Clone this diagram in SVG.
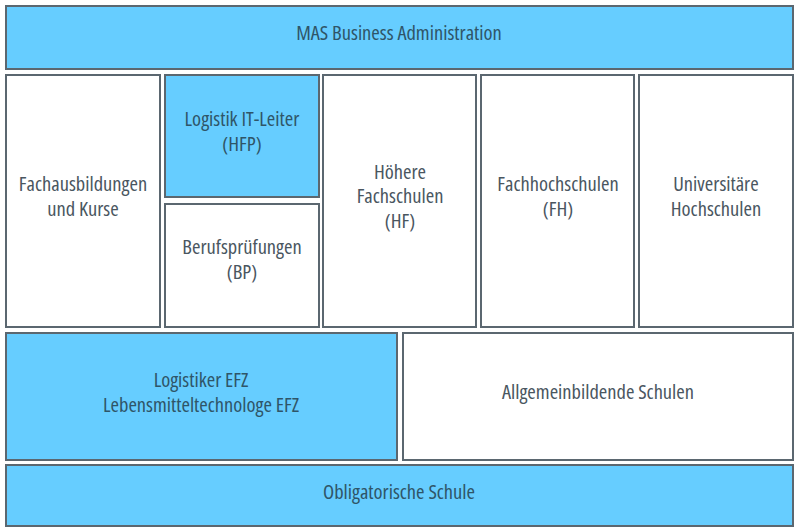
<svg xmlns="http://www.w3.org/2000/svg" width="799" height="532" viewBox="0 0 799 532">
<style>
.b{stroke:#5b6770;stroke-width:2}
.blue{fill:#66cdff}
.white{fill:#ffffff}
text{font-family:"Open Sans","Noto Sans",sans-serif;font-size:20.5px;text-anchor:middle;font-stretch:condensed}
.tb{fill:#2f5568}
.tw{fill:#4a565f}
</style>
<rect width="799" height="532" fill="#fff"/>
<g id="mas"><rect class="b blue" x="6" y="6" width="787" height="63"/><text class="tb" x="399" y="40">MAS Business Administration</text></g>
<g id="fachaus"><rect class="b white" x="6" y="75" width="154" height="252"/><text class="tw" x="83" y="191">Fachausbildungen</text><text class="tw" x="83" y="216">und Kurse</text></g>
<g id="hfp"><rect class="b blue" x="165" y="75" width="154" height="122"/><text class="tb" x="242" y="126">Logistik IT-Leiter</text><text class="tb" x="242" y="151">(HFP)</text></g>
<g id="bp"><rect class="b white" x="165" y="204" width="154" height="123"/><text class="tw" x="242" y="254">Berufsprüfungen</text><text class="tw" x="242" y="279">(BP)</text></g>
<g id="hf"><rect class="b white" x="323" y="75" width="153" height="252"/><text class="tw" x="400" y="179">Höhere</text><text class="tw" x="400" y="203">Fachschulen</text><text class="tw" x="400" y="228">(HF)</text></g>
<g id="fh"><rect class="b white" x="481" y="75" width="153" height="252"/><text class="tw" x="558" y="191">Fachhochschulen</text><text class="tw" x="558" y="216">(FH)</text></g>
<g id="uni"><rect class="b white" x="639" y="75" width="154" height="252"/><text class="tw" x="716" y="191">Universitäre</text><text class="tw" x="716" y="216">Hochschulen</text></g>
<g id="efz"><rect class="b blue" x="6" y="333" width="391" height="127"/><text class="tb" x="201" y="387">Logistiker EFZ</text><text class="tb" x="201" y="412">Lebensmitteltechnologe EFZ</text></g>
<g id="allg"><rect class="b white" x="403" y="333" width="390" height="127"/><text class="tw" x="598" y="399">Allgemeinbildende Schulen</text></g>
<g id="oblig"><rect class="b blue" x="6" y="465" width="787" height="61"/><text class="tb" x="399" y="499">Obligatorische Schule</text></g>
<g id="connectors"></g>
</svg>
